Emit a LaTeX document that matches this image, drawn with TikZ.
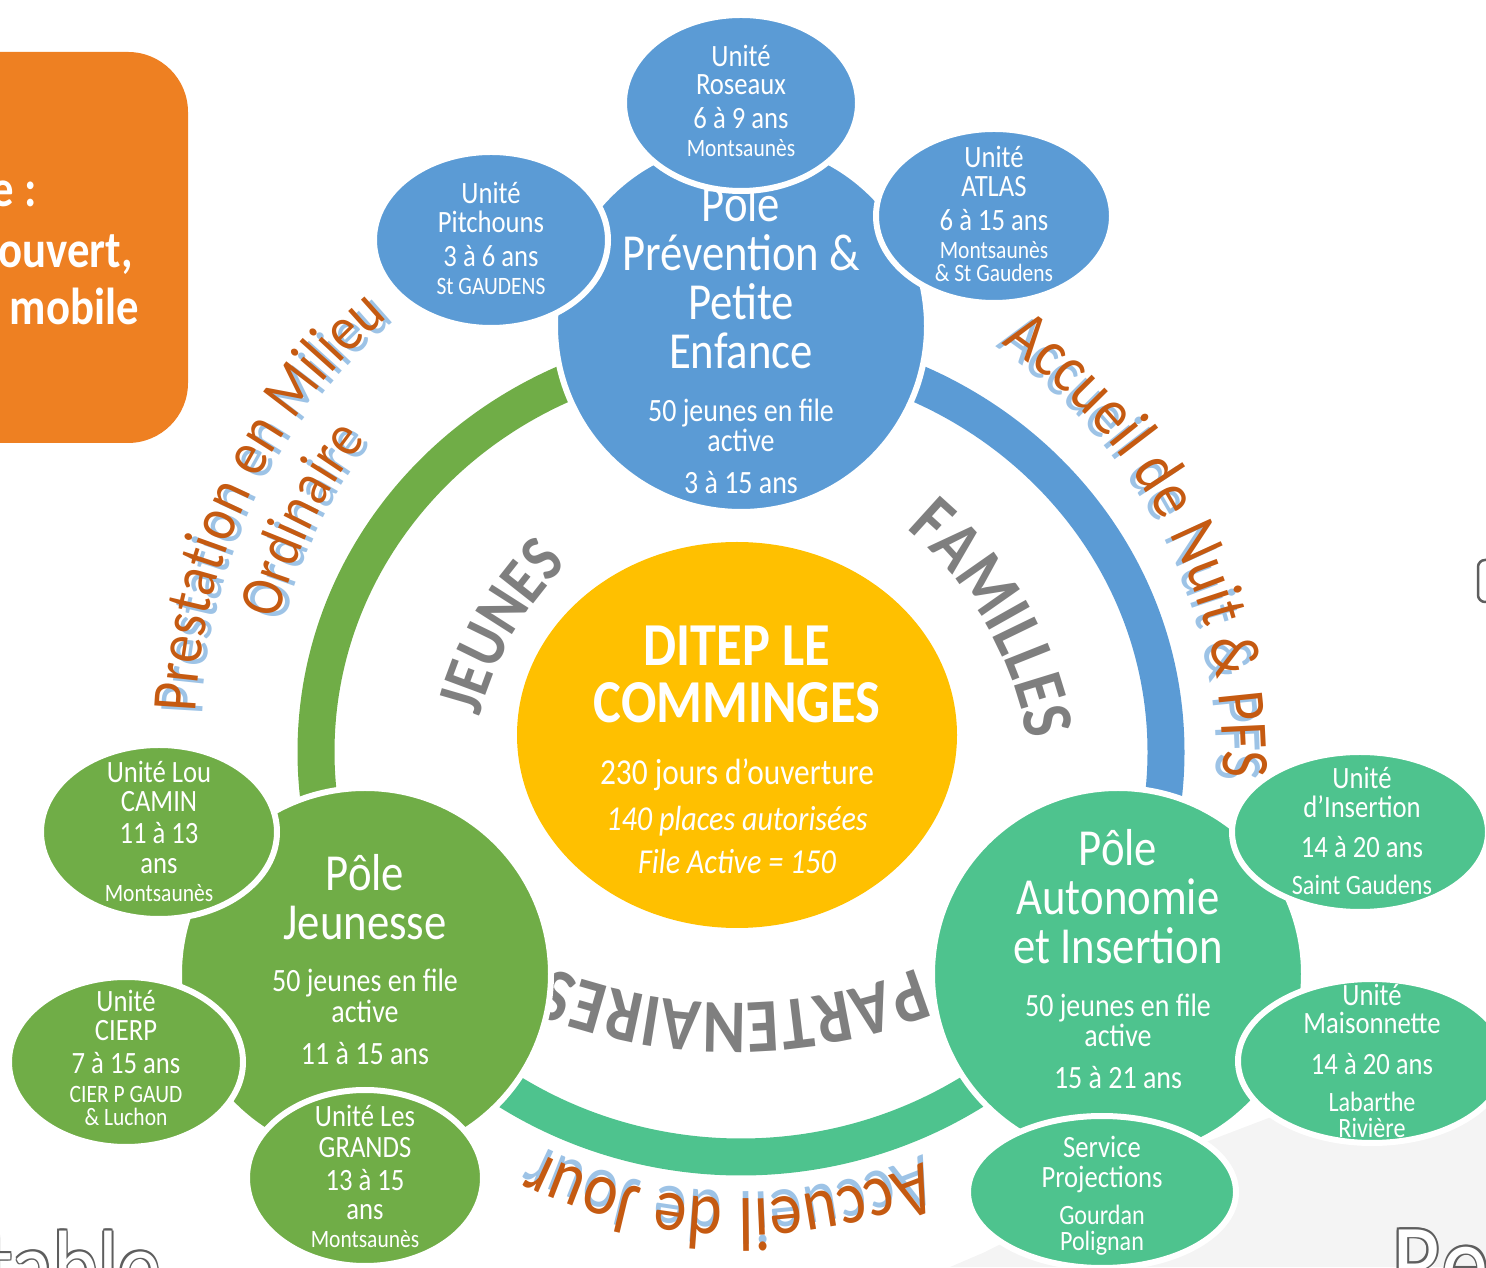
\documentclass[tikz,border=0pt]{standalone}
\usepackage{fontspec}
\setmainfont{Carlito}
\newfontfamily\nf{Carlito}[FakeStretch=0.86]
\usetikzlibrary{shapes.geometric,decorations.text,calc}
\definecolor{cblue}{HTML}{5B9BD5}
\definecolor{cgreen}{HTML}{70AD47}
\definecolor{cteal}{HTML}{4EC38E}
\definecolor{cyellow}{HTML}{FFC000}
\definecolor{corange}{HTML}{EE8022}
\definecolor{otext}{HTML}{C55A11}
\definecolor{oshadow}{HTML}{9DC3E6}
\definecolor{cgray}{HTML}{7F7F7F}
\definecolor{cbg}{HTML}{F4F4F4}
\definecolor{olc}{HTML}{5E5E5E}
\newcommand\fs[1]{\fontsize{#1}{#1}\selectfont}
\newcommand\fJeu{\nf\bfseries\fontsize{67}{67}\selectfont}
\newcommand\fFam{\nf\bfseries\fontsize{72}{72}\selectfont}
\newcommand\fPar{\nf\bfseries\fontsize{76}{76}\selectfont}
\newcommand\fPre{\nf\fontsize{64}{64}\selectfont}
\newcommand\fOrd{\nf\fontsize{61}{61}\selectfont}
\newcommand\fNui{\nf\fontsize{68}{68}\selectfont}
\newcommand\fJou{\nf\fontsize{76}{76}\selectfont}
\newcommand\olt[1]{\leavevmode
 \rlap{\textcolor{olc}{\kern1.8pt#1}}\rlap{\textcolor{olc}{\kern-1.8pt#1}}%
 \rlap{\textcolor{olc}{\raisebox{1.8pt}{#1}}}\rlap{\textcolor{olc}{\raisebox{-1.8pt}{#1}}}%
 \rlap{\textcolor{olc}{\kern1.3pt\raisebox{1.3pt}{#1}}}\rlap{\textcolor{olc}{\kern-1.3pt\raisebox{1.3pt}{#1}}}%
 \rlap{\textcolor{olc}{\kern1.3pt\raisebox{-1.3pt}{#1}}}\rlap{\textcolor{olc}{\kern-1.3pt\raisebox{-1.3pt}{#1}}}%
 \textcolor{white}{#1}}
\begin{document}
\begin{tikzpicture}[x=1pt,y=1pt,
 pole/.style={circle, minimum size=372pt, inner sep=0pt, draw=white, line width=6pt},
 unit/.style={ellipse, inner sep=0pt, draw=white, line width=6pt},
 tx/.style={anchor=base, inner sep=0pt, text=white},
 ut/.style={tx, font=\nf\fs{31}},
 ul/.style={tx, font=\nf\fs{25}},
 ul2/.style={tx, font=\nf\fs{28}},
 pb/.style={tx, font=\nf\fs{52}},
 ps/.style={tx, font=\nf\fs{32.5}},
 cb/.style={tx, font=\nf\bfseries\fs{61}},
 cs/.style={tx, font=\nf\fs{36.5}},
 ci/.style={tx, font=\nf\itshape\fs{35}},
 ob/.style={anchor=base east, inner sep=0pt, text=white, font=\nf\bfseries\fs{52}},
 ring/.style={line width=37pt},
 gw/.style={decorate, decoration={text along path, text align=center, text color=cgray}},
 ow/.style={decorate, decoration={text along path, text align=center, text color=otext}},
 sw/.style={decorate, decoration={text along path, text align=center, text color=oshadow}}
]
\useasboundingbox (0,0) rectangle (1486,1267);
\clip (0,0) rectangle (1486,1267);

% background fragments
\fill[cbg] (950,0) -- (985,15) -- (1190,119) -- (1486,232) -- (1486,0) -- cycle;
\draw[olc, line width=2.5pt, rounded corners=7pt] (1530,707) -- (1478,707) -- (1478,665) -- (1530,665);
\node[anchor=base west, inner sep=0pt, font=\nf\fs{100}] (tbl) at (-16,-33) {\olt{table}};
\node[anchor=base west, inner sep=0pt, font=\nf\fs{110}] (rec) at (1392,-33) {\olt{Re}};

% orange box
\fill[corange, rounded corners=60pt] (-120,824) rectangle (188,1215);
\node[ob] (ob1) at (37,1060) {e :};
\node[ob] (ob2) at (133,999) {ouvert,};
\node[ob] (ob3) at (139,942) {mobile};

% ring (slightly flattened circle)
\coordinate (R) at (741,515);
\draw[ring, cgreen] ($(R)+(90:425 and 405)$) arc[start angle=90, end angle=215, x radius=425, y radius=405];
\draw[ring, cblue] ($(R)+(90:425 and 405)$) arc[start angle=90, end angle=-35, x radius=425, y radius=405];
\draw[ring, cteal] ($(R)+(215:425 and 405)$) arc[start angle=215, end angle=325, x radius=425, y radius=405];

% centre
\node[ellipse, fill=cyellow, minimum width=440pt, minimum height=386pt, inner sep=0pt] (ctr) at (737,532) {};
\node[cb] (c1) at (737,601) {DITEP LE};
\node[cb] (c2) at (737,544) {COMMINGES};
\node[cs] (c3) at (737,482) {230 jours d’ouverture};
\node[ci] (c4) at (737,436) {140 places autorisées};
\node[ci] (c5) at (737,393) {File Active = 150};

% gray words
\coordinate (Cj) at (800,467);
\coordinate (Cf) at (680,467);
\coordinate (Cp) at (734,764);
\path[gw, decoration={text={|\fJeu|JEUNES}}] ($(Cj)+(185:331)$) arc[start angle=185, end angle=115, radius=331];
\path[gw, decoration={text={|\fFam|FAMILLES}}] ($(Cf)+(75:353)$) arc[start angle=75, end angle=-15, radius=353];
\path[gw, decoration={text={|\fPar|PARTENAIRES}}] ($(Cp)+(-45:500)$) arc[start angle=-45, end angle=-135, radius=500];

% orange words
\coordinate (C) at (741,533);
\coordinate (Cn) at (720,507);
\path[sw, decoration={text={|\fPre|Prestation en Milieu}}] ($(C)+(200:539)$) arc[start angle=200, end angle=108, radius=539];
\path[ow, decoration={text={|\fPre|Prestation en Milieu}}] ($(C)+(200:546)$) arc[start angle=200, end angle=108, radius=546];
\path[sw, decoration={text={|\fOrd|Ordinaire}}] ($(C)+(190:470)$) arc[start angle=190, end angle=118, radius=470];
\path[ow, decoration={text={|\fOrd|Ordinaire}}] ($(C)+(190:477)$) arc[start angle=190, end angle=118, radius=477];
\path[sw, decoration={text={|\fNui|Accueil de Nuit {\&} PFS}}] ($(Cn)+(75:496)$) arc[start angle=75, end angle=-21, radius=496];
\path[ow, decoration={text={|\fNui|Accueil de Nuit {\&} PFS}}] ($(Cn)+(75:503)$) arc[start angle=75, end angle=-21, radius=503];
\path[sw, decoration={text={|\fJou|Accueil de Jour}}] ($(C)+(-43:458)$) arc[start angle=-43, end angle=-140, radius=458];
\path[ow, decoration={text={|\fJou|Accueil de Jour}}] ($(C)+(-43:465)$) arc[start angle=-43, end angle=-140, radius=465];

% poles
\node[pole, fill=cblue] (pP) at (741,941) {};
\node[pb] (pP1) at (741,1045) {Pôle};
\node[pb] (pP2) at (741,996) {Prévention \&};
\node[pb] (pP3) at (741,947) {Petite};
\node[pb] (pP4) at (741,898) {Enfance};
\node[ps] (pP5) at (741,845) {50 jeunes en file};
\node[ps] (pP6) at (741,815) {active};
\node[ps] (pP7) at (741,773) {3 à 15 ans};

\node[pole, fill=cgreen] (pJ) at (365,293) {};
\node[pb] (pJ1) at (365,376) {Pôle};
\node[pb] (pJ2) at (365,327) {Jeunesse};
\node[ps] (pJ3) at (365,275) {50 jeunes en file};
\node[ps] (pJ4) at (365,244) {active};
\node[ps] (pJ5) at (365,202) {11 à 15 ans};

\node[pole, fill=cteal] (pA) at (1118,293) {};
\node[pb] (pA1) at (1118,401) {Pôle};
\node[pb] (pA2) at (1118,352) {Autonomie};
\node[pb] (pA3) at (1118,303) {et Insertion};
\node[ps] (pA4) at (1118,250) {50 jeunes en file};
\node[ps] (pA5) at (1118,220) {active};
\node[ps] (pA6) at (1118,178) {15 à 21 ans};

% units blue
\node[unit, fill=cblue, minimum width=234pt, minimum height=176pt] (ros) at (741,1164) {};
\node[ut] (ros1) at (741,1200) {Unité};
\node[ut] (ros2) at (741,1172) {Roseaux};
\node[ut] (ros3) at (741,1138) {6 à 9 ans};
\node[ul] (ros4) at (741,1110) {Montsaunès};

\node[unit, fill=cblue, minimum width=234pt, minimum height=176pt] (pit) at (491,1027) {};
\node[ut] (pit1) at (491,1063) {Unité};
\node[ut] (pit2) at (491,1034) {Pitchouns};
\node[ut] (pit3) at (491,1000) {3 à 6 ans};
\node[ul] (pit4) at (491,972) {St GAUDENS};

\node[unit, fill=cblue, minimum width=236pt, minimum height=174pt] (atl) at (994,1051) {};
\node[ut] (atl1) at (994,1099) {Unité};
\node[ut] (atl2) at (994,1070) {ATLAS};
\node[ut] (atl3) at (994,1036) {6 à 15 ans};
\node[ul] (atl4) at (994,1008) {Montsaunès};
\node[ul] (atl5) at (994,985) {\& St Gaudens};

% units green
\node[unit, fill=cgreen, minimum width=236pt, minimum height=174pt] (lou) at (159,435) {};
\node[ut] (lou1) at (159,484) {Unité Lou};
\node[ut] (lou2) at (159,455) {CAMIN};
\node[ut] (lou3) at (159,423) {11 à 13};
\node[ut] (lou4) at (159,393) {ans};
\node[ul] (lou5) at (159,365) {Montsaunès};

\node[unit, fill=cgreen, minimum width=234pt, minimum height=170pt] (cie) at (126,205) {};
\node[ut] (cie1) at (126,255) {Unité};
\node[ut] (cie2) at (126,226) {CIERP};
\node[ut] (cie3) at (126,193) {7 à 15 ans};
\node[ul] (cie4) at (126,164) {CIER P GAUD};
\node[ul] (cie5) at (126,141) {\& Luchon};

\node[unit, fill=cgreen, minimum width=236pt, minimum height=176pt] (gra) at (365,89) {};
\node[ut] (gra1) at (365,140) {Unité Les};
\node[ut] (gra2) at (365,110) {GRANDS};
\node[ut] (gra3) at (365,77) {13 à 15};
\node[ut] (gra4) at (365,48) {ans};
\node[ul] (gra5) at (365,20) {Montsaunès};

% units teal
\node[unit, fill=cteal, minimum width=256pt, minimum height=160pt] (ins) at (1360,435) {};
\node[ut] (ins1) at (1362,478) {Unité};
\node[ut] (ins2) at (1362,449) {d’Insertion};
\node[ut] (ins3) at (1362,409) {14 à 20 ans};
\node[ul2] (ins4) at (1362,372) {Saint Gaudens};

\node[unit, fill=cteal, minimum width=268pt, minimum height=164pt] (mai) at (1372,206) {};
\node[ut] (mai1) at (1372,261) {Unité};
\node[ut] (mai2) at (1372,233) {Maisonnette};
\node[ut] (mai3) at (1372,192) {14 à 20 ans};
\node[ul2] (mai4) at (1372,155) {Labarthe};
\node[ul2] (mai5) at (1372,129) {Rivière};

\node[unit, fill=cteal, minimum width=268pt, minimum height=152pt] (ser) at (1102,75) {};
\node[ut] (ser1) at (1102,109) {Service};
\node[ut] (ser2) at (1102,80) {Projections};
\node[ul2] (ser3) at (1102,43) {Gourdan};
\node[ul2] (ser4) at (1102,17) {Polignan};
\end{tikzpicture}
\end{document}
